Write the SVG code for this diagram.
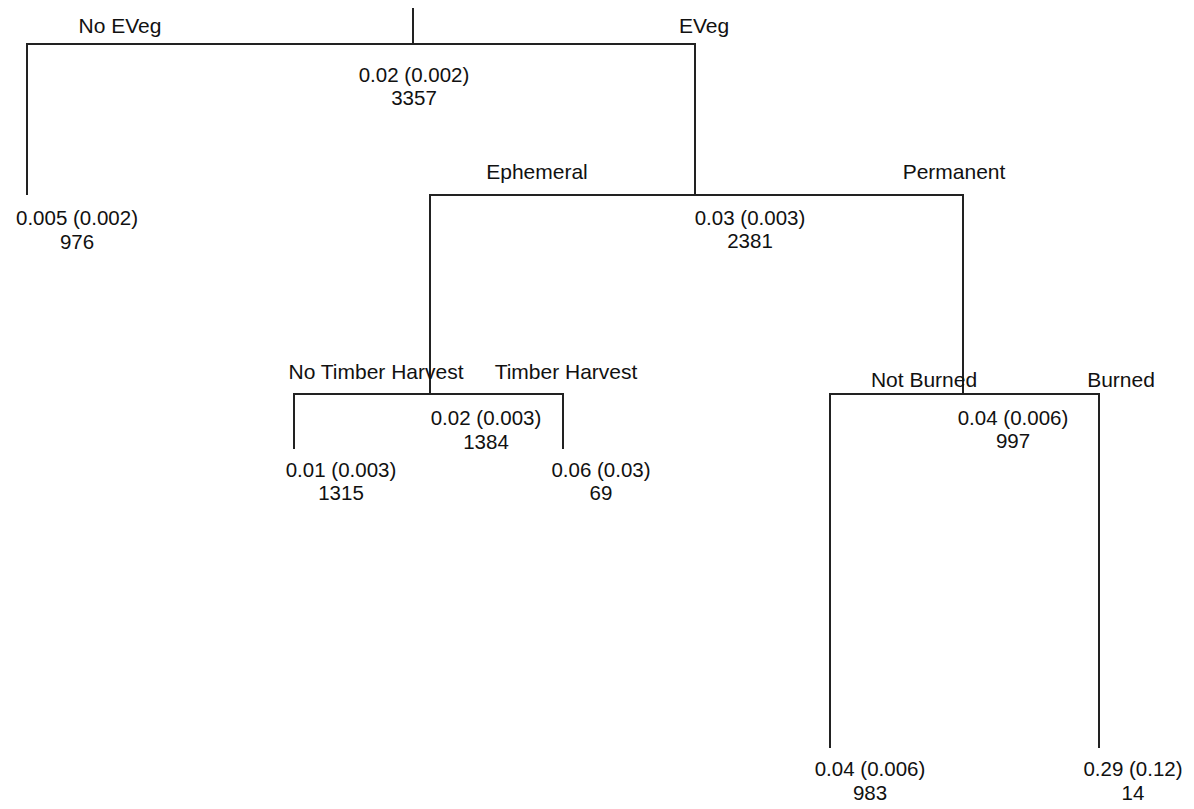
<svg xmlns="http://www.w3.org/2000/svg" width="1194" height="809" viewBox="0 0 1194 809">
  <style>
    text { font-family: "Liberation Sans", Arial, sans-serif; font-size: 20.5px; fill: #111; text-anchor: middle; }
    .split { font-size: 21px; }
    .edge { fill: none; stroke: #222; stroke-width: 2; }
  </style>
  <rect width="1194" height="809" fill="#fff"/>

  <!-- tree connectors -->
  <g id="connectors">
    <path class="edge" d="M413,8 V44"/>
    <path class="edge" d="M27,195 V44 H695 V195"/>
    <path class="edge" d="M430,394 V195 H963 V394"/>
    <path class="edge" d="M294,449 V394 H563 V449"/>
    <path class="edge" d="M830,748 V394 H1099 V748"/>
  </g>

  <!-- split labels -->
  <g id="split-labels">
    <text class="split" x="120" y="33">No EVeg</text>
    <text class="split" x="704" y="33">EVeg</text>
    <text class="split" x="537" y="179">Ephemeral</text>
    <text class="split" x="954" y="179">Permanent</text>
    <text class="split" x="376" y="379">No Timber Harvest</text>
    <text class="split" x="566" y="379">Timber Harvest</text>
    <text class="split" x="924" y="387">Not Burned</text>
    <text class="split" x="1121" y="387">Burned</text>
  </g>

  <g id="node-root">
    <text x="414" y="82">0.02 (0.002)</text>
    <text x="414" y="105">3357</text>
  </g>
  <g id="node-no-eveg">
    <text x="77" y="225">0.005 (0.002)</text>
    <text x="77" y="249">976</text>
  </g>
  <g id="node-eveg">
    <text x="750" y="225">0.03 (0.003)</text>
    <text x="750" y="248">2381</text>
  </g>
  <g id="node-ephemeral">
    <text x="486" y="425">0.02 (0.003)</text>
    <text x="486" y="449">1384</text>
  </g>
  <g id="node-no-timber">
    <text x="341" y="477">0.01 (0.003)</text>
    <text x="341" y="500">1315</text>
  </g>
  <g id="node-timber">
    <text x="601" y="477">0.06 (0.03)</text>
    <text x="601" y="500">69</text>
  </g>
  <g id="node-permanent">
    <text x="1013" y="425">0.04 (0.006)</text>
    <text x="1013" y="448">997</text>
  </g>
  <g id="node-not-burned">
    <text x="870" y="776">0.04 (0.006)</text>
    <text x="870" y="800">983</text>
  </g>
  <g id="node-burned">
    <text x="1133" y="776">0.29 (0.12)</text>
    <text x="1133" y="800">14</text>
  </g>
</svg>
